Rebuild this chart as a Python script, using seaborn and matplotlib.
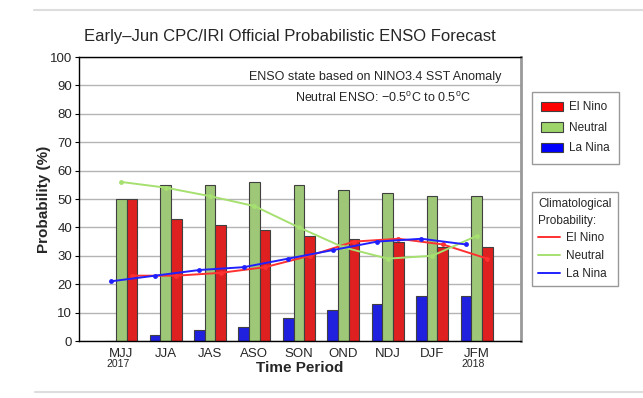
import matplotlib
matplotlib.use("Agg")
import matplotlib.pyplot as plt
from matplotlib.lines import Line2D
from matplotlib.patches import Patch
import numpy as np
import pandas as pd
import seaborn as sns

periods = ["MJJ", "JJA", "JAS", "ASO", "SON", "OND", "NDJ", "DJF", "JFM"]
la_nina = [0, 2, 4, 5, 8, 11, 13, 16, 16]
neutral = [50, 55, 55, 56, 55, 53, 52, 51, 51]
el_nino = [50, 43, 41, 39, 37, 36, 35, 33, 33]

# climatological probabilities
clim_el_nino = [23, 23, 24, 26, 30, 35, 36, 34, 29]
clim_neutral = [56, 54, 51, 47.5, 40, 33, 29, 30, 37]
clim_la_nina = [21, 23, 25, 26, 29, 32, 35, 36, 34]

hue_order = ["La Nina", "Neutral", "El Nino"]
bar_colors = {"El Nino": "#ff0000", "Neutral": "#9ed56a", "La Nina": "#0000ff"}
line_colors = {"El Nino": "#ff3030", "Neutral": "#a6e070", "La Nina": "#2020ff"}

sns.set_theme(style="white")
plt.rcParams["font.family"] = ["Liberation Sans", "DejaVu Sans"]
plt.rcParams["mathtext.fontset"] = "custom"
plt.rcParams["mathtext.rm"] = "Liberation Sans"

df = pd.DataFrame({
    "period": periods * 3,
    "category": ["La Nina"] * 9 + ["Neutral"] * 9 + ["El Nino"] * 9,
    "prob": la_nina + neutral + el_nino,
})

fig = plt.figure(figsize=(6.43, 3.98), dpi=100)
ax = fig.add_axes([79 / 643, 57 / 398, 442 / 643, 284 / 398])

width = 0.72
sns.barplot(data=df, x="period", y="prob", hue="category", hue_order=hue_order,
            palette=bar_colors, width=width, edgecolor="#404040", linewidth=0.8,
            legend=False, ax=ax, zorder=2)

# climatology lines sit on the matching bar positions
step = width / 3
x = np.arange(len(periods))
for name, vals, off in [("El Nino", clim_el_nino, step),
                        ("Neutral", clim_neutral, 0),
                        ("La Nina", clim_la_nina, -step)]:
    sns.lineplot(x=x + off, y=vals, color=line_colors[name], linewidth=1.4,
                 marker="o", markersize=3.5, markeredgewidth=0, ax=ax, zorder=3)

ax.set_xlim(-0.95, 9.0)
ax.set_ylim(0, 100)
ax.set_yticks(range(0, 101, 10))
ax.yaxis.grid(True, color="#b4b4b4", linewidth=1)
ax.set_axisbelow(True)
ax.tick_params(axis="y", left=True, length=3, width=0.8, color="black", pad=2, labelsize=9.5)
ax.tick_params(axis="x", length=0, pad=5, labelsize=9.5)
for side in ["left", "bottom", "top"]:
    ax.spines[side].set_color("black")
    ax.spines[side].set_linewidth(1)
ax.spines["right"].set_color("#999999")
ax.spines["right"].set_linewidth(2)

ax.set_xlabel("Time Period", fontsize=11, fontweight="bold", labelpad=1)
ax.set_ylabel("Probability (%)", fontsize=11, fontweight="bold", labelpad=-1)

xt = ax.get_xaxis_transform()
ax.text(-0.07, -0.082, "2017", transform=xt, ha="center", va="center", fontsize=7.5)
ax.text(7.92, -0.082, "2018", transform=xt, ha="center", va="center", fontsize=7.5)

ax.text(0.670, 0.930, "ENSO state based on NINO3.4 SST Anomaly",
        transform=ax.transAxes, ha="center", va="center", fontsize=9)
ax.text(0.687, 0.857, r"Neutral ENSO: $-$0.5$^{\rm o}$C to 0.5$^{\rm o}$C",
        transform=ax.transAxes, ha="center", va="center", fontsize=9)

fig.text(290 / 643, 1 - 37 / 398, "Early\u2013Jun CPC/IRI Official Probabilistic ENSO Forecast",
         ha="center", va="center", fontsize=12)

# legends
leg_font = {"size": 8.5}

bar_handles = [Patch(facecolor=bar_colors[k], edgecolor="#404040", linewidth=0.8, label=k)
               for k in ["El Nino", "Neutral", "La Nina"]]
leg1 = fig.legend(handles=bar_handles, loc="upper left", bbox_to_anchor=(532 / 643, 1 - 92 / 398),
                  frameon=True, fancybox=False, edgecolor="#808080", prop=leg_font,
                  handlelength=1.85, handleheight=0.85, handletextpad=0.45,
                  borderpad=0.8, labelspacing=0.72, borderaxespad=0)
leg1.get_frame().set_linewidth(1)

line_handles = [Line2D([], [], color=line_colors[k], linewidth=1.4, label=k)
                for k in ["El Nino", "Neutral", "La Nina"]]
leg2 = fig.legend(handles=line_handles, title="Climatological\nProbability:",
                  loc="upper left", bbox_to_anchor=(532 / 643, 1 - 191.7 / 398),
                  frameon=True, fancybox=False, edgecolor="#808080", prop=leg_font,
                  title_fontproperties=leg_font, alignment="left",
                  handlelength=1.85, handletextpad=0.45,
                  borderpad=0.55, labelspacing=0.48, borderaxespad=0)
leg2.get_title().set_linespacing(1.5)
leg2.get_frame().set_linewidth(1)

# page rules at top and bottom
fig.add_artist(Line2D([34 / 643, 1], [1 - 10 / 398] * 2, color="#dddddd", linewidth=1.5,
                      transform=fig.transFigure))
fig.add_artist(Line2D([35 / 643, 1], [1 - 392 / 398] * 2, color="#dddddd", linewidth=1.5,
                      transform=fig.transFigure))

fig.savefig("out.png", dpi=100, facecolor="white")
